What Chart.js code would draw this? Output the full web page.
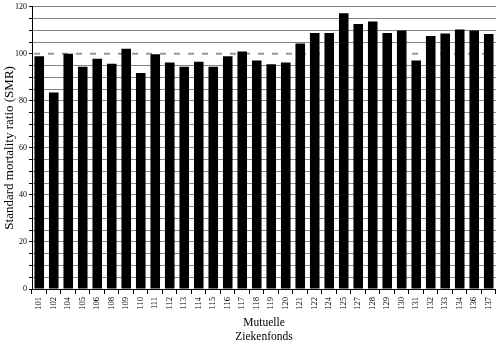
<!DOCTYPE html>
<html>
<head>
<meta charset="utf-8">
<script src="https://cdn.jsdelivr.net/npm/chart.js@4"></script>
<style>
  html, body { margin: 0; padding: 0; background: #fff; }
  #wrap { width: 502px; height: 360px; position: relative; }
</style>
</head>
<body>
<div id="wrap"><canvas id="smrChart"></canvas></div>
<script>
// fund codes (x axis)
const funds = ["101", "102", "104", "105", "106", "108", "109", "110", "111", "112",
               "113", "114", "115", "116", "117", "118", "119", "120", "121", "122",
               "124", "125", "127", "128", "129", "130", "131", "132", "133", "134",
               "136", "137"];

// SMR per fund
const smr = [99.0, 83.6, 100.0, 94.5, 97.9, 95.8, 102.2, 91.8, 99.8, 96.3,
             94.5, 96.6, 94.5, 99.0, 101.0, 97.2, 95.6, 96.3, 104.4, 108.9,
             108.9, 117.3, 112.7, 113.8, 108.9, 109.9, 97.2, 107.6, 108.6, 110.3,
             109.9, 108.4];

const yLabels = [0, 20, 40, 60, 80, 100, 120];
const refLine = 100;

const serif = "'Liberation Serif', 'DejaVu Serif', serif";

// dashed reference line at 100, drawn behind the bars
const refLinePlugin = {
    id: "refLine",
    beforeDatasetsDraw(chart) {
        let ctx = chart.ctx;
        let area = chart.chartArea;
        let y = chart.scales.y.getPixelForValue(refLine);
        ctx.save();
        ctx.strokeStyle = "#9a9a9a";
        ctx.lineWidth = 2;
        ctx.setLineDash([6, 8]);
        ctx.beginPath();
        ctx.moveTo(area.left + 2, y);
        ctx.lineTo(area.right, y);
        ctx.stroke();
        ctx.restore();
    }
};

let ctx = document.getElementById("smrChart");

new Chart(ctx, {
    type: "bar",
    data: {
        labels: funds,
        datasets: [{
            data: smr,
            backgroundColor: "#000000",
            borderWidth: 0,
            barPercentage: 0.66,
            categoryPercentage: 1.0
        }]
    },
    options: {
        responsive: true,
        maintainAspectRatio: false,
        animation: false,
        layout: {
            padding: { left: 0, right: 5, top: 5, bottom: 12 }
        },
        plugins: {
            legend: { display: false },
            tooltip: { enabled: false }
        },
        scales: {
            x: {
                offset: true,
                grid: {
                    drawOnChartArea: false,
                    drawTicks: true,
                    tickLength: 5,
                    tickColor: "#000000",
                    offset: true
                },
                border: { color: "#000000", width: 1 },
                ticks: {
                    minRotation: 90,
                    maxRotation: 90,
                    autoSkip: false,
                    padding: 3,
                    color: "#000000",
                    font: { family: serif, size: 8.5 }
                },
                title: {
                    display: true,
                    text: ["Mutuelle", "Ziekenfonds"],
                    color: "#000000",
                    font: { family: serif, size: 11.5, lineHeight: 1.22 },
                    padding: { top: 4, bottom: 4 }
                },
                afterFit(scale) {
                    scale.height = 59;
                }
            },
            y: {
                min: 0,
                max: 120,
                grid: {
                    color: (c) => (c.tick && c.tick.value === refLine) ? "rgba(0,0,0,0)" : "#858585",
                    lineWidth: 1,
                    tickLength: 3,
                    tickColor: "#000000"
                },
                border: { color: "#000000", width: 1 },
                ticks: {
                    stepSize: 5,
                    autoSkip: false,
                    padding: 2,
                    color: "#000000",
                    font: { family: serif, size: 8 },
                    callback: (v) => yLabels.includes(v) ? v : ""
                },
                title: {
                    display: true,
                    text: "Standard mortality ratio (SMR)",
                    color: "#000000",
                    font: { family: serif, size: 13 },
                    padding: { top: 2, bottom: 0 }
                },
                afterFit(scale) {
                    scale.width = 32;
                }
            }
        }
    },
    plugins: [refLinePlugin]
});
</script>
</body>
</html>
